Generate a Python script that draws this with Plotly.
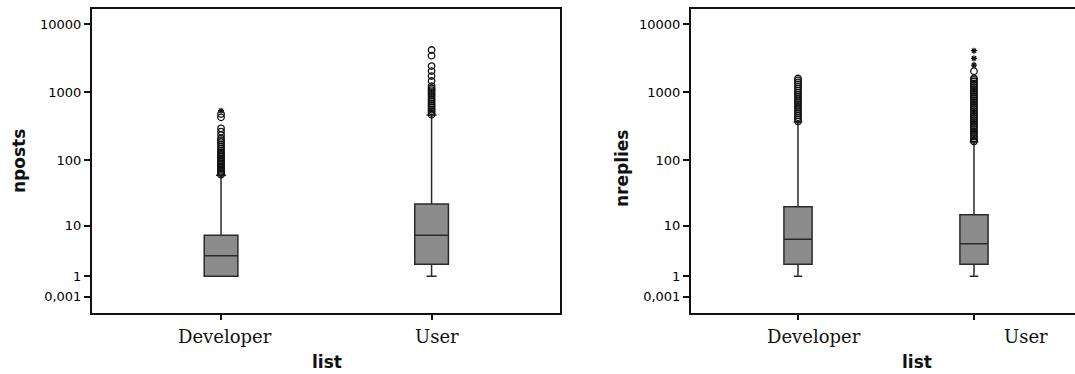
import plotly.graph_objects as go

# ---- data -------------------------------------------------------------
categories = ["Developer", "User"]

# nposts box statistics (Developer, User)
posts_lowerfence = [1, 1]
posts_q1 = [1, 2]
posts_median = [3, 7]
posts_q3 = [7, 22]
posts_upperfence = [60, 465]

# nreplies box statistics (Developer, User)
replies_lowerfence = [1, 1]
replies_q1 = [2, 2]
replies_median = [6, 5]
replies_q3 = [20, 15]
replies_upperfence = [370, 188]

# outliers (circles) and extreme values (stars)
posts_dev_out = [61, 64, 67, 70, 74, 78, 82, 86, 90, 95, 100, 106, 112, 118,
                 125, 132, 140, 150, 160, 172, 185, 198, 211, 236, 265, 296,
                 430, 481]
posts_dev_ext = [538]
posts_user_out = [470, 500, 530, 560, 600, 640, 680, 730, 780, 830, 890, 950,
                  1010, 1080, 1150, 1240, 1470, 1740, 2060, 2440, 3460, 4200]
posts_user_ext = []

replies_dev_out = [375, 400, 430, 460, 495, 530, 570, 610, 655, 700, 750, 800,
                   860, 920, 990, 1060, 1140, 1220, 1310, 1400, 1500, 1600]
replies_dev_ext = []
replies_user_out = [190, 200, 212, 225, 240, 255, 270, 288, 306, 325, 345, 367,
                    390, 415, 440, 470, 500, 530, 565, 600, 640, 680, 725, 770,
                    820, 870, 930, 990, 1050, 1120, 1190, 1270, 1350, 1440,
                    1530, 1610, 2050]
replies_user_ext = [2520, 3160, 4100]

ytick_values = [0.001, 1, 10, 100, 1000, 10000]
ytick_text = ["0,001", "1", "10", "100", "1000", "10000"]


# values are drawn on a log(v + 1) scale
def shift(vals):
    return [v + 1 for v in vals]


BOX_FILL = "#8c8c8c"
BOX_LINE = "#2a2a2a"
INK = "#111111"

fig = go.Figure()


def add_panel(xa, ya, lf, q1, med, q3, uf, outs, exts):
    fig.add_trace(go.Box(
        x=[0, 1], lowerfence=shift(lf), q1=shift(q1), median=shift(med),
        q3=shift(q3), upperfence=shift(uf), width=0.16, whiskerwidth=0.3,
        fillcolor=BOX_FILL, line=dict(color=BOX_LINE, width=1.5),
        boxpoints=False, xaxis=xa, yaxis=ya, showlegend=False,
        hoverinfo="skip"))
    for i, (o, e) in enumerate(zip(outs, exts)):
        if o:
            fig.add_trace(go.Scatter(
                x=[i] * len(o), y=shift(o), mode="markers", xaxis=xa, yaxis=ya,
                marker=dict(symbol="circle-open", size=6.5,
                            color=INK, line=dict(width=1.3, color=INK)),
                showlegend=False, hoverinfo="skip"))
        if e:
            fig.add_trace(go.Scatter(
                x=[i] * len(e), y=shift(e), mode="markers", xaxis=xa, yaxis=ya,
                marker=dict(symbol="asterisk-open", size=5,
                            color=INK, line=dict(width=1.2, color=INK)),
                showlegend=False, hoverinfo="skip"))


add_panel("x", "y", posts_lowerfence, posts_q1, posts_median, posts_q3,
          posts_upperfence, [posts_dev_out, posts_user_out],
          [posts_dev_ext, posts_user_ext])
add_panel("x2", "y2", replies_lowerfence, replies_q1, replies_median,
          replies_q3, replies_upperfence, [replies_dev_out, replies_user_out],
          [replies_dev_ext, replies_user_ext])

W, H = 1075, 374
y_dom = [1 - 312.7 / H, 1 - 9 / H]
y_common = dict(
    type="log", range=[-0.234, 4.225], domain=y_dom,
    tickvals=shift(ytick_values), ticktext=ytick_text,
    ticks="outside", ticklen=6, tickwidth=1.5, tickcolor=INK,
    tickfont=dict(family="DejaVu Sans", size=13, color="#000"),
    showgrid=False, zeroline=False, showline=True, linecolor=INK,
    linewidth=2)
x_common = dict(
    tickvals=[0, 1], showticklabels=False, ticks="outside", ticklen=5,
    tickwidth=1.5, tickcolor=INK, showgrid=False, zeroline=False,
    showline=True, linecolor=INK, linewidth=2, mirror=True)

fig.update_layout(
    width=W, height=H, margin=dict(l=0, r=0, t=0, b=0),
    paper_bgcolor="white", plot_bgcolor="white", boxmode="overlay",
    xaxis=dict(x_common, domain=[92 / W, 560 / W], range=[-0.613, 1.610]),
    yaxis=dict(y_common, anchor="x", mirror=True),
    xaxis2=dict(x_common, domain=[691 / W, 1.0], range=[-0.608, 1.574],
                anchor="y2"),
    yaxis2=dict(y_common, anchor="x2", mirror=False),
)

cat_font = dict(family="DejaVu Serif", size=18, color="#111")
title_font = dict(family="DejaVu Sans", size=17, color="#111")
ann = []
# category labels under each panel
for xr, shifts in (("x", [4, 5]), ("x2", [16, 52])):
    for i, name in enumerate(categories):
        ann.append(dict(x=i, xref=xr, y=1 - 336 / H, yref="paper",
                        text=name, showarrow=False, xshift=shifts[i],
                        font=cat_font, xanchor="center", yanchor="middle"))
# axis titles
for xpos in (327, 917):
    ann.append(dict(x=xpos / W, y=1 - 362 / H, xref="paper", yref="paper",
                    text="<b>list</b>", showarrow=False, font=title_font,
                    xanchor="center", yanchor="middle"))
ann.append(dict(x=19 / W, y=1 - 161 / H, xref="paper", yref="paper",
                text="<b>nposts</b>", showarrow=False, textangle=-90,
                font=title_font, xanchor="center", yanchor="middle"))
ann.append(dict(x=622 / W, y=1 - 168 / H, xref="paper", yref="paper",
                text="<b>nreplies</b>", showarrow=False, textangle=-90,
                font=title_font, xanchor="center", yanchor="middle"))
fig.update_layout(annotations=ann)

fig.write_html("out.html")
